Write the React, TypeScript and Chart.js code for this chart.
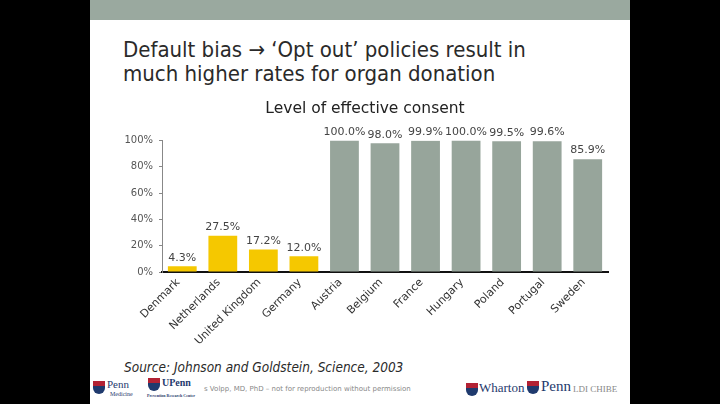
import React, { useEffect, useRef } from "react";
import { Chart, registerables } from "chart.js";

Chart.register(...registerables);

const categories = ["Denmark", "Netherlands", "United Kingdom", "Germany", "Austria", "Belgium", "France", "Hungary", "Poland", "Portugal", "Sweden"];
const consentValues = [4.3, 27.5, 17.2, 12.0, 100.0, 98.0, 99.9, 100.0, 99.5, 99.6, 85.9];
const optInCount = 4;
const yTicks = [0, 20, 40, 60, 80, 100];

const YELLOW = "#f5c800";
const GRAY = "#97a59b";
const FONT = "'DejaVu Sans', 'Noto Sans', sans-serif";
const COND = "'DejaVu Sans Condensed', 'DejaVu Sans', sans-serif";

const valueLabels = {
  id: "valueLabels",
  afterDatasetsDraw(chart: any) {
    const ctx = chart.ctx;
    const meta = chart.getDatasetMeta(0);
    ctx.save();
    ctx.font = `11px ${FONT}`;
    ctx.fillStyle = "#444";
    ctx.textAlign = "center";
    ctx.textBaseline = "bottom";
    meta.data.forEach((el: any, i: number) => {
      const v = consentValues[i];
      ctx.fillText(v.toFixed(1) + "%", el.x, el.y - 3);
    });
    ctx.restore();
  },
};

function ChartView() {
  const ref = useRef<HTMLCanvasElement | null>(null);
  useEffect(() => {
    if (!ref.current) return;
    const chart = new Chart(ref.current, {
      type: "bar",
      data: {
        labels: categories,
        datasets: [
          {
            data: consentValues,
            backgroundColor: consentValues.map((_, i) => (i < optInCount ? YELLOW : GRAY)),
            categoryPercentage: 1,
            barPercentage: 0.71,
          },
        ],
      },
      options: {
        animation: false,
        responsive: false,
        maintainAspectRatio: false,
        layout: { padding: { left: 22, right: 22, top: 0, bottom: 0 } },
        plugins: {
          legend: { display: false },
          tooltip: { enabled: false },
          title: {
            display: true,
            text: "Level of effective consent",
            color: "#222",
            font: { family: FONT, size: 15.5, weight: "normal" },
            padding: { top: 5, bottom: 22 },
          },
        },
        scales: {
          x: {
            grid: { display: false },
            border: { display: true, color: "#111", width: 2 },
            ticks: {
              color: "#333",
              font: { family: FONT, size: 11 },
              maxRotation: 45,
              minRotation: 45,
              autoSkip: false,
              padding: -4,
              labelOffset: -4,
            },
            afterFit(scale: any) {
              scale.height = 83;
            },
          },
          y: {
            min: 0,
            max: 100,
            afterBuildTicks(scale: any) {
              scale.ticks = yTicks.map((v) => ({ value: v }));
            },
            grid: { drawOnChartArea: false, drawTicks: true, tickLength: 3, color: "#888" },
            border: { display: true, color: "#888", width: 1 },
            ticks: {
              color: "#555",
              font: { family: FONT, size: 10 },
              padding: 6,
              callback: (v: any) => v + "%",
            },
            afterFit(scale: any) {
              scale.width = 40;
            },
          },
        },
      },
      plugins: [valueLabels],
    });
    return () => chart.destroy();
  }, []);
  return <canvas ref={ref} width={530} height={260} style={{ position: "absolute", left: 100, top: 95 }} />;
}

function Shield({ left, top }: { left: number; top: number }) {
  return (
    <div style={{ position: "absolute", left, top, width: 12, height: 13 }}>
      <div style={{ height: 5, background: "#b22234" }} />
      <div style={{ height: 8, background: "#1f3a6e", borderRadius: "0 0 6px 6px" }} />
    </div>
  );
}

export default function App() {
  return (
    <div style={{ position: "fixed", left: 0, top: 0, width: 720, height: 404, background: "#000", overflow: "hidden" }}>
      <div style={{ position: "absolute", left: 90, top: 0, width: 540, height: 404, background: "#fff" }} />
      <div style={{ position: "absolute", left: 90, top: 0, width: 540, height: 20, background: "#9aa99f" }} />
      <div
        style={{
          position: "absolute",
          left: 123,
          top: 38,
          fontFamily: COND,
          fontSize: 22,
          lineHeight: "24px",
          color: "#2a2a2a",
          whiteSpace: "nowrap",
        }}
      >
        Default bias → ‘Opt out’ policies result in
        <br />
        much higher rates for organ donation
      </div>
      <ChartView />
      <div
        style={{
          position: "absolute",
          left: 124,
          top: 359,
          fontFamily: COND,
          fontStyle: "italic",
          fontSize: 13.5,
          lineHeight: "16px",
          color: "#2a2a2a",
          whiteSpace: "nowrap",
        }}
      >
        Source: Johnson and Goldstein, Science, 2003
      </div>
      <Shield left={93} top={381} />
      <div style={{ position: "absolute", left: 107, top: 378, fontFamily: "'Liberation Serif', serif", fontSize: 11, color: "#1f3a6e" }}>Penn</div>
      <div style={{ position: "absolute", left: 110, top: 391, fontFamily: "'Liberation Serif', serif", fontSize: 6, color: "#1f3a6e" }}>Medicine</div>
      <Shield left={148} top={378} />
      <div style={{ position: "absolute", left: 162, top: 377, fontFamily: "'Liberation Serif', serif", fontSize: 10, fontWeight: "bold", color: "#1f3a6e" }}>UPenn</div>
      <div style={{ position: "absolute", left: 147, top: 393, fontFamily: "'Liberation Serif', serif", fontSize: 4, fontWeight: "bold", color: "#1f3a6e" }}>Prevention Research Center</div>
      <div style={{ position: "absolute", left: 204, top: 385, fontFamily: FONT, fontSize: 7, color: "#888", whiteSpace: "nowrap" }}>
        s Volpp, MD, PhD – not for reproduction without permission
      </div>
      <Shield left={466} top={383} />
      <div style={{ position: "absolute", left: 479, top: 380, fontFamily: "'Liberation Serif', serif", fontSize: 13, color: "#1f3a6e" }}>Wharton</div>
      <Shield left={527} top={381} />
      <div style={{ position: "absolute", left: 541, top: 378, fontFamily: "'Liberation Serif', serif", fontSize: 15, color: "#1f3a6e" }}>Penn</div>
      <div style={{ position: "absolute", left: 573, top: 384, fontFamily: "'Liberation Serif', serif", fontSize: 9, color: "#888", whiteSpace: "nowrap" }}>LDI CHIBE</div>
    </div>
  );
}
